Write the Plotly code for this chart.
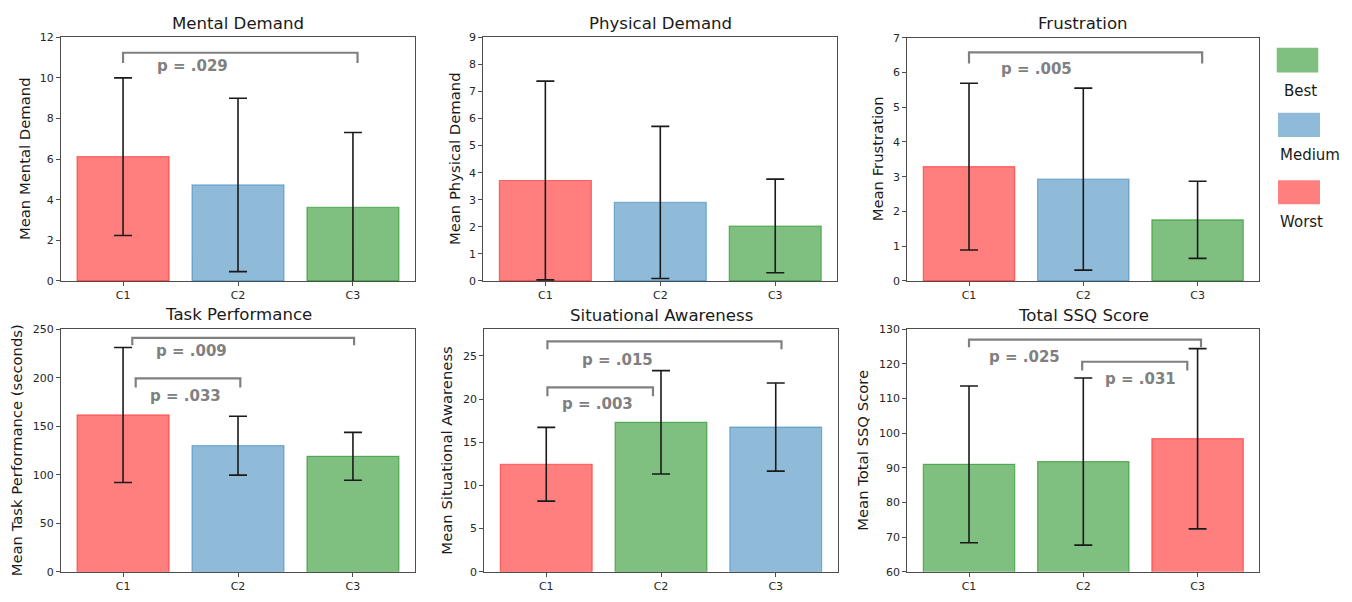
import plotly.graph_objects as go

# ---------------- data ----------------
categories = ["C1", "C2", "C3"]

titles = ["Mental Demand", "Physical Demand", "Frustration",
          "Task Performance", "Situational Awareness", "Total SSQ Score"]
ylabels = ["Mean Mental Demand", "Mean Physical Demand", "Mean Frustration",
           "Mean Task Performance (seconds)", "Mean Situational Awareness",
           "Mean Total SSQ Score"]

mental_mean = [6.12, 4.73, 3.63]
mental_err = [3.88, 4.27, 3.68]
physical_mean = [3.71, 2.90, 2.03]
physical_err = [3.67, 2.81, 1.73]
frustration_mean = [3.29, 2.93, 1.76]
frustration_err = [2.40, 2.62, 1.11]
task_mean = [161.8, 130.1, 119.1]
task_err = [69.6, 30.4, 24.7]
sa_mean = [12.45, 17.3, 16.75]
sa_err = [4.27, 5.98, 5.10]
ssq_mean = [91.0, 91.8, 98.4]
ssq_err = [22.6, 24.1, 26.0]

# rank of each condition per measure
mental_rank = ["Worst", "Medium", "Best"]
physical_rank = ["Worst", "Medium", "Best"]
frustration_rank = ["Worst", "Medium", "Best"]
task_rank = ["Worst", "Medium", "Best"]
sa_rank = ["Worst", "Best", "Medium"]
ssq_rank = ["Best", "Best", "Worst"]

legend_labels = ["Best", "Medium", "Worst"]

# significance tests: (panel, p text)
sig_texts = [
    (0, "p = .029"),
    (2, "p = .005"),
    (3, "p = .009"), (3, "p = .033"),
    (4, "p = .015"), (4, "p = .003"),
    (5, "p = .025"), (5, "p = .031"),
]

# ---------------- styling / layout ----------------
W, H = 1352, 602
FONT = "DejaVu Sans"
rank_color = {"Best": "rgba(0,128,0,0.5)",
              "Medium": "rgba(31,119,180,0.5)",
              "Worst": "rgba(255,0,0,0.5)"}

means = [mental_mean, physical_mean, frustration_mean, task_mean, sa_mean, ssq_mean]
errs = [mental_err, physical_err, frustration_err, task_err, sa_err, ssq_err]
ranks = [mental_rank, physical_rank, frustration_rank, task_rank, sa_rank, ssq_rank]

# plot areas in pixels (left, right, top, bottom)
boxes = [(61, 415, 32, 281), (483.3, 837.3, 32, 281), (907.3, 1259.3, 32.5, 281),
         (61, 415, 330.6, 578.3), (484.3, 837.7, 330.6, 578.3), (907.3, 1259.3, 330.3, 578.3)]
yranges = [[0, 12], [0, 9], [0, 7], [0, 250], [0, 28.05], [60, 130]]
dticks = [2, 1, 1, 50, 5, 10]
ylabel_x = [24, 454, 877, 16.7, 447, 862.3]
title_y = [18.3, 18.3, 18.3, 315.7, 316, 316.5]

# bracket geometry per sig test: x0, x1, y_bar, y_end, text x, text y
bracket_geom = [
    (0.0, 2.04, 11.24, 10.73, 0.60, 10.6),
    (0.0, 2.04, 6.58, 6.26, 0.59, 6.09),
    (0.08, 2.01, 241.3, 233.8, 0.594, 227.8),
    (0.11, 1.02, 199.5, 190.1, 0.542, 181.7),
    (0.01, 2.05, 26.67, 25.76, 0.619, 24.55),
    (0.01, 0.93, 21.34, 20.32, 0.449, 19.38),
    (0.0, 2.03, 126.97, 124.8, 0.483, 121.9),
    (0.99, 1.91, 120.6, 118.06, 1.497, 115.7),
]

fig = go.Figure()
annotations = []
shapes = []

def px_x(v):
    return v / W

def px_y(v):
    return 1 - v / H

for i in range(6):
    n = i + 1
    xa = "x" if n == 1 else f"x{n}"
    ya = "y" if n == 1 else f"y{n}"
    l, r, t, b = boxes[i]
    fig.add_trace(go.Bar(
        x=categories, y=means[i], width=0.8,
        marker=dict(color=[rank_color[k] for k in ranks[i]],
                    line=dict(color=[rank_color[k] for k in ranks[i]], width=1.2)),
        error_y=dict(type="data", array=errs[i], visible=True,
                     color="#1a1a1a", thickness=1.6, width=9),
        xaxis=xa, yaxis=ya, showlegend=False, hoverinfo="skip"))
    axis_common = dict(showline=True, mirror=True, linecolor="#4d4d4d", linewidth=1.3,
                       ticks="outside", ticklen=4, tickcolor="#4d4d4d", tickwidth=1,
                       showgrid=False, zeroline=False,
                       tickfont=dict(family=FONT, size=11, color="#262626"))
    fig.layout[f"xaxis{'' if n == 1 else n}"] = dict(
        domain=[px_x(l), px_x(r)], anchor=ya, type="category",
        range=[-0.54, 2.54], **axis_common)
    fig.layout[f"yaxis{'' if n == 1 else n}"] = dict(
        domain=[px_y(b), px_y(t)], anchor=xa, range=yranges[i], dtick=dticks[i],
        **axis_common)
    annotations.append(dict(text=titles[i], x=px_x((l + r) / 2), y=px_y(title_y[i]),
                            xref="paper", yref="paper", showarrow=False,
                            xanchor="center", yanchor="middle",
                            font=dict(family=FONT, size=16.6, color="#1a1a1a")))
    annotations.append(dict(text=ylabels[i], x=px_x(ylabel_x[i]), y=px_y((t + b) / 2),
                            xref="paper", yref="paper", showarrow=False, textangle=-90,
                            xanchor="center", yanchor="middle",
                            font=dict(family=FONT, size=14.8, color="#1a1a1a")))

for (panel, txt), (x0, x1, yb, ye, tx, ty) in zip(sig_texts, bracket_geom):
    n = panel + 1
    xr = "x" if n == 1 else f"x{n}"
    yr = "y" if n == 1 else f"y{n}"
    shapes.append(dict(type="path", xref=xr, yref=yr,
                       path=f"M {x0},{ye} L {x0},{yb} L {x1},{yb} L {x1},{ye}",
                       line=dict(color="#808080", width=2.2)))
    annotations.append(dict(text=f"<b>{txt}</b>", x=tx, y=ty, xref=xr, yref=yr,
                            showarrow=False, xanchor="center", yanchor="middle",
                            font=dict(family=FONT, size=15, color="#808080")))

# legend (patches + labels)
patch_boxes = [(1276.7, 1318.3, 42.7, 68), (1278, 1320, 109, 134), (1278, 1320, 178, 202.7)]
label_pos = [(1282, 86.7), (1278, 152), (1278, 221)]
for lab, (pl, pr, pt, pb), (lx, ly) in zip(legend_labels, patch_boxes, label_pos):
    shapes.append(dict(type="rect", xref="paper", yref="paper",
                       x0=px_x(pl), x1=px_x(pr), y0=px_y(pb), y1=px_y(pt),
                       fillcolor=rank_color[lab], line=dict(width=0)))
    annotations.append(dict(text=lab, x=px_x(lx), y=px_y(ly), xref="paper", yref="paper",
                            showarrow=False, xanchor="left", yanchor="middle",
                            font=dict(family=FONT, size=15, color="#1a1a1a")))

fig.update_layout(autosize=True, margin=dict(l=0, r=0, t=0, b=0, pad=0),
                  paper_bgcolor="white", plot_bgcolor="white",
                  annotations=annotations, shapes=shapes,
                  font=dict(family=FONT))

post = ("var gd=document.getElementById('{plot_id}');"
        "var de=document.documentElement, bd=document.body;"
        "de.style.margin='0';de.style.padding='0';de.style.overflow='hidden';"
        "de.style.height='100%';de.style.width='100%';"
        "bd.style.margin='0';bd.style.padding='0';bd.style.overflow='hidden';"
        "bd.style.height='100%';bd.style.width='100%';"
        "gd.style.position='fixed';gd.style.top='0px';gd.style.left='0px';"
        "gd.style.width='100vw';gd.style.height='100vh';"
        "Plotly.Plots.resize(gd);")
fig.write_html("out.html", post_script=post, default_width="100%", default_height="100%",
               config={"responsive": True, "displayModeBar": False})
